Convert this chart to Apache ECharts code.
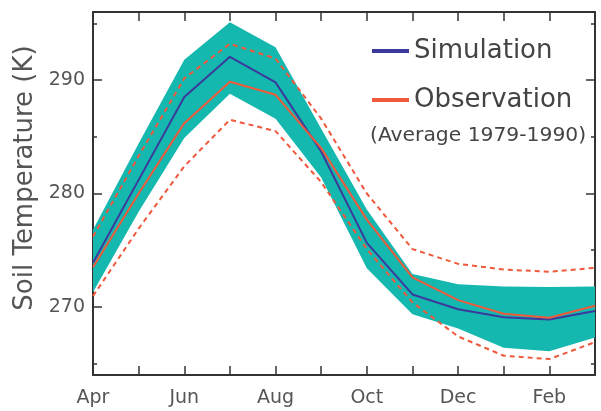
<!DOCTYPE html>
<html><head><meta charset="utf-8">
<script src="https://cdn.jsdelivr.net/npm/echarts@6/dist/echarts.min.js"></script>
<style>html,body{margin:0;padding:0;background:#fff}#c{width:601px;height:411px}</style>
</head><body><div id="c"></div>
<script>
const months = ['Apr','May','Jun','Jul','Aug','Sep','Oct','Nov','Dec','Jan','Feb','Mar'];
const simulation = [273.9, 281.2, 288.5, 292.05, 289.8, 283.7, 275.65, 271.1, 269.8, 269.1, 268.9, 269.65];
const observation = [273.5, 280.0, 286.2, 289.85, 288.7, 284.0, 277.7, 272.6, 270.6, 269.4, 269.05, 270.1];
const obsUpper = [276.2, 283.3, 290.15, 293.2, 291.9, 286.6, 280.0, 275.1, 273.8, 273.3, 273.1, 273.45];
const obsLower = [270.96, 276.9, 282.4, 286.5, 285.5, 281.0, 275.1, 270.4, 267.4, 265.7, 265.4, 266.9];
const bandHigh = [276.8, 284.4, 291.8, 295.1, 292.9, 285.7, 278.6, 272.9, 272.0, 271.8, 271.75, 271.8];
const bandLow = [271.3, 278.4, 284.9, 288.8, 286.6, 281.4, 273.4, 269.35, 268.1, 266.4, 266.1, 267.3];
const majorTicks = [270, 280, 290];
const minorTicks = [265, 275, 285, 295];
const yMin = 264, yMax = 296;

const FONT = 'DejaVu Sans';
const AX = '#333';
const bandDiff = bandHigh.map((v, i) => +(v - bandLow[i]).toFixed(3));

function yAx(pos, ticks, len, labels) {
  return {
    type: 'value', min: yMin, max: yMax, position: pos,
    axisLine: { show: true, lineStyle: { color: AX, width: 2 } },
    axisTick: { show: true, inside: true, length: len, customValues: ticks, lineStyle: { color: AX, width: 1.5 } },
    axisLabel: labels ? { show: true, customValues: ticks, fontSize: 19, color: '#555', fontFamily: FONT, margin: 8 } : { show: false },
    splitLine: { show: false }
  };
}
function xAx(pos, labels) {
  return {
    type: 'category', data: months, boundaryGap: false, position: pos,
    axisLine: { show: true, onZero: false, lineStyle: { color: AX, width: 2 } },
    axisTick: { show: true, inside: true, length: 9, interval: 0, lineStyle: { color: AX, width: 1.5 } },
    axisLabel: labels ? { show: true, interval: 1, fontSize: 19, color: '#555', fontFamily: FONT, margin: 14 } : { show: false },
    splitLine: { show: false }
  };
}

const chart = echarts.init(document.getElementById('c'), null, { renderer: 'canvas' });
chart.setOption({
  animation: false,
  backgroundColor: '#fff',
  grid: { left: 93, right: 6, top: 12, bottom: 36 },
  xAxis: [xAx('bottom', true), xAx('top', false)],
  yAxis: [yAx('left', majorTicks, 9, true), yAx('left', minorTicks, 4, false), yAx('right', majorTicks, 9, false), yAx('right', minorTicks, 4, false)],
  legend: {
    data: ['Simulation', 'Observation'], orient: 'vertical', left: 367, top: 33,
    icon: 'rect', itemWidth: 37, itemHeight: 4, itemGap: 23, selectedMode: false,
    textStyle: { fontSize: 26, color: '#444', fontFamily: FONT }
  },
  graphic: [
    { type: 'text', left: 370, top: 126, style: { text: '(Average 1979-1990)', fontSize: 20.3, fill: '#444', fontFamily: FONT } },
    { type: 'text', x: 25, y: 178, rotation: Math.PI / 2, style: { text: 'Soil Temperature (K)', fontSize: 26, fill: '#555', fontFamily: FONT, align: 'center', verticalAlign: 'middle' } }
  ],
  series: [
    { name: 'bandBase', type: 'line', data: bandLow, stack: 'band', symbol: 'none', lineStyle: { opacity: 0 }, silent: true },
    { name: 'bandRange', type: 'line', data: bandDiff, stack: 'band', symbol: 'none', lineStyle: { opacity: 0 }, areaStyle: { color: '#14B8AF', opacity: 1 }, silent: true },
    { name: 'obsUpper', type: 'line', data: obsUpper, symbol: 'none', lineStyle: { color: '#F0583C', width: 2, type: [5, 4] } },
    { name: 'obsLower', type: 'line', data: obsLower, symbol: 'none', lineStyle: { color: '#F0583C', width: 2, type: [5, 4] } },
    { name: 'Simulation', type: 'line', data: simulation, symbol: 'none', color: '#3B3A9C', lineStyle: { color: '#3B3A9C', width: 2 } },
    { name: 'Observation', type: 'line', data: observation, symbol: 'none', color: '#EE5A3A', lineStyle: { color: '#EE5A3A', width: 2 } }
  ]
});
</script>
</body></html>
